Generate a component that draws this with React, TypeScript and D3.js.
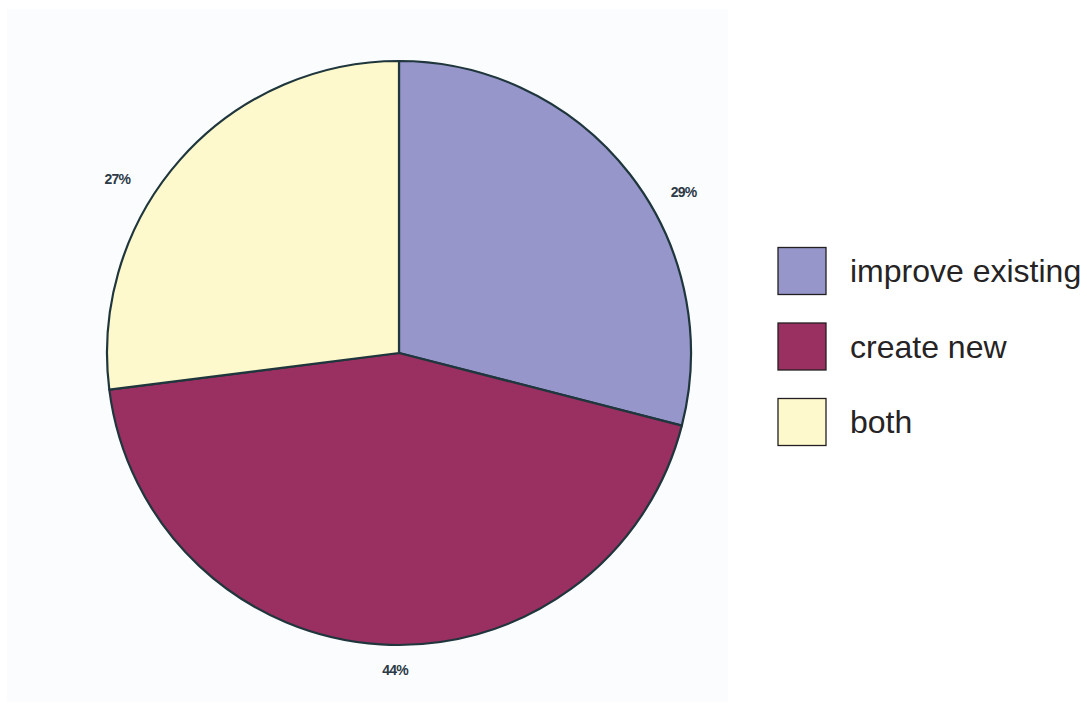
import React from "react";
import * as d3 from "d3";

const categories = ["improve existing", "create new", "both"];
const values = [29, 44, 27];
const colors = ["#9696ca", "#9a2f62", "#fef9cc"];
const pctLabels = ["29%", "44%", "27%"];
// label placement: angle (deg, clockwise from top) and distance from centre
const labelAngles = [60.5, 180.7, 301.7];
const labelRadii = [327, 317, 331];

export default function App() {
  const W = 1087;
  const H = 709;
  const cx = 399;
  const cy = 353;
  const r = 292;

  const pie = d3.pie<number>().sort(null).value((d) => d);
  const arcs = pie(values);
  const arc = d3.arc<d3.PieArcDatum<number>>().innerRadius(0).outerRadius(r);

  const legendY = d3.scaleLinear().domain([0, 1]).range([271, 346.5]);

  return (
    <svg
      width={W}
      height={H}
      style={{ position: "absolute", left: 0, top: 0 }}
      xmlns="http://www.w3.org/2000/svg"
    >
      <rect x={0} y={0} width={W} height={H} fill="#ffffff" />
      <rect x={7} y={9} width={721} height={693} fill="#fbfcfe" />
      <g transform={`translate(${cx},${cy})`}>
        {arcs.map((a, i) => (
          <path
            key={i}
            d={arc(a) || ""}
            fill={colors[i]}
            stroke="#1f363d"
            strokeWidth={2.2}
            strokeLinejoin="round"
          />
        ))}
        {pctLabels.map((t, i) => {
          const ang = (labelAngles[i] * Math.PI) / 180;
          const x = Math.sin(ang) * labelRadii[i];
          const y = -Math.cos(ang) * labelRadii[i];
          return (
            <text
              key={t}
              x={x}
              y={y}
              textAnchor="middle"
              dominantBaseline="central"
              fontFamily="Liberation Sans, Arial, sans-serif"
              fontWeight="bold"
              fontSize={14}
              letterSpacing={-0.8}
              fill="#2c3a46"
            >
              {t}
            </text>
          );
        })}
      </g>
      <g>
        {categories.map((c, i) => (
          <g key={c} transform={`translate(0,${legendY(i)})`}>
            <rect
              x={778}
              y={-23.5}
              width={48}
              height={47}
              fill={colors[i]}
              stroke="#231f20"
              strokeWidth={1.3}
            />
            <text
              x={850}
              y={11}
              fontFamily="Liberation Sans, Arial, Helvetica, sans-serif"
              fontSize={32}
              fill="#262324"
            >
              {c}
            </text>
          </g>
        ))}
      </g>
    </svg>
  );
}
